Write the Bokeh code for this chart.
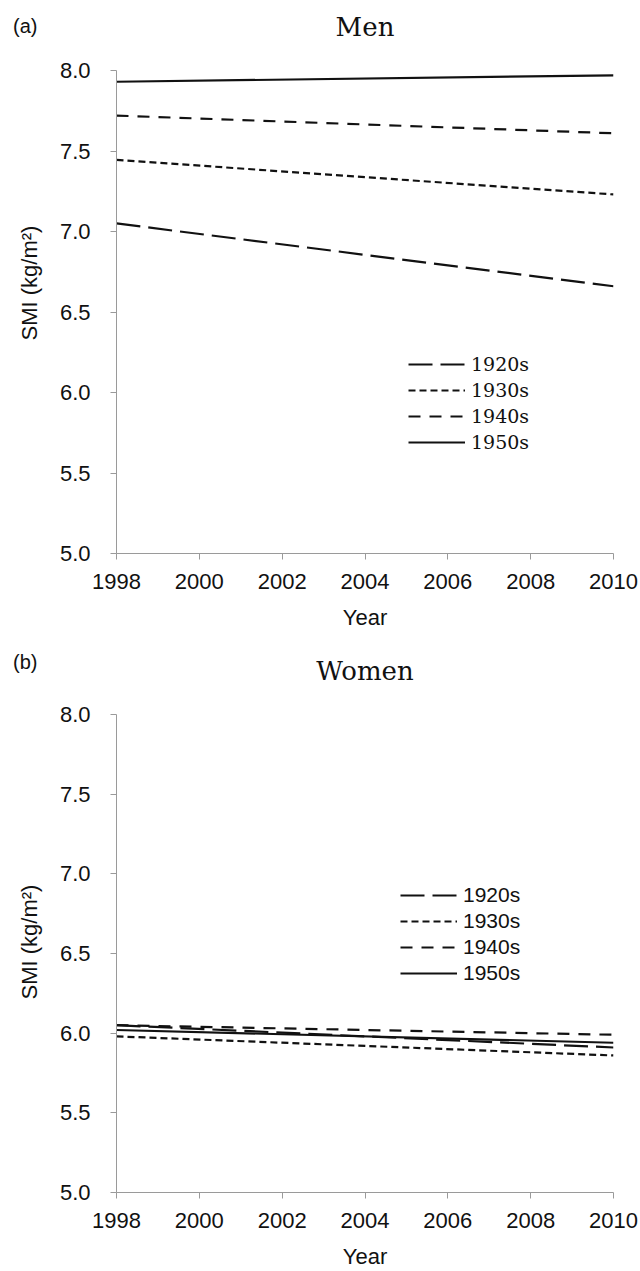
from bokeh.plotting import figure
from bokeh.layouts import column
from bokeh.models import Range1d, Legend, LegendItem, Title, FixedTicker, NumeralTickFormatter
from bokeh.core.properties import value
from bokeh.embed import file_html
from bokeh.resources import INLINE

years = [1998, 2010]
cohorts = ["1920s", "1930s", "1940s", "1950s"]
men_1920s = [7.05, 6.66]
men_1930s = [7.445, 7.23]
men_1940s = [7.72, 7.61]
men_1950s = [7.93, 7.97]
women_1920s = [6.05, 5.91]
women_1930s = [5.98, 5.86]
women_1940s = [6.05, 5.99]
women_1950s = [6.02, 5.94]
x_ticks = [1998, 2000, 2002, 2004, 2006, 2008, 2010]
y_ticks = [5.0, 5.5, 6.0, 6.5, 7.0, 7.5, 8.0]
panel_titles = ["Men", "Women"]
panel_tags = ["(a)", "(b)"]

dashes = ["24 8", "7 4", "12 9", "solid"]
AX = "#9a9a9a"
INK = "#111111"
SANS = "Liberation Sans"
SERIF = "DejaVu Serif"


def header(tag, title, height, tag_y, title_y):
    h = figure(width=640, height=height, output_backend="svg", toolbar_location=None,
               x_range=Range1d(1998, 2010), y_range=Range1d(0, height),
               x_axis_location=None, y_axis_location="left",
               min_border_left=116, min_border_right=27,
               min_border_top=0, min_border_bottom=0)
    h.outline_line_color = None
    h.xgrid.visible = False
    h.ygrid.visible = False
    ax = h.yaxis[0]
    ax.ticker = FixedTicker(ticks=[tag_y])
    ax.major_label_overrides = {tag_y: tag}
    ax.axis_line_color = None
    ax.major_tick_line_color = None
    ax.minor_tick_line_color = None
    ax.major_tick_out = 0
    ax.major_tick_in = 0
    ax.major_label_standoff = 79
    ax.major_label_text_font = SANS
    ax.major_label_text_font_size = "20px"
    ax.major_label_text_color = INK
    h.text(x=[2004], y=[title_y], text=[title], text_font=value(SERIF),
           text_font_size="26px", text_align="center", text_baseline="middle",
           text_color=INK)
    return h


def panel(series, height, top, bottom, legend_font, legend_size, legend_loc, ylab_offset):
    p = figure(width=640, height=height, output_backend="svg", toolbar_location=None,
               x_range=Range1d(1998, 2010), y_range=Range1d(5.0, 8.0),
               min_border_left=116, min_border_right=27, min_border_top=top,
               min_border_bottom=bottom)
    p.outline_line_color = None
    p.xgrid.visible = False
    p.ygrid.visible = False
    for ax in (p.xaxis[0], p.yaxis[0]):
        ax.axis_line_color = AX
        ax.axis_line_width = 1
        ax.major_tick_line_color = AX
        ax.major_tick_out = 6
        ax.major_tick_in = 0
        ax.minor_tick_out = 0
        ax.minor_tick_in = 0
        ax.major_label_text_font = SANS
        ax.major_label_text_font_size = "22px"
        ax.major_label_text_color = INK
        ax.axis_label_text_font = SANS
        ax.axis_label_text_font_size = "22px"
        ax.axis_label_text_font_style = "normal"
        ax.axis_label_text_color = INK
    p.xaxis.ticker = FixedTicker(ticks=x_ticks)
    p.yaxis.ticker = FixedTicker(ticks=y_ticks)
    p.yaxis.formatter = NumeralTickFormatter(format="0.0")
    p.xaxis.axis_label = "Year"
    p.xaxis.major_label_standoff = 14
    p.yaxis.major_label_standoff = 20
    p.xaxis.axis_label_standoff = 13

    ylab = Title(text="SMI (kg/m²)", align="left", offset=ylab_offset, standoff=28,
                 vertical_align="middle",
                 text_font=SANS, text_font_size="22px", text_font_style="normal",
                 text_color=INK)
    p.add_layout(ylab, "left")

    items = []
    for name, vals, dash in zip(cohorts, series, dashes):
        r = p.line(years, vals, line_color=INK, line_width=2.2, line_dash=dash)
        items.append(LegendItem(label=name, renderers=[r]))
    leg = Legend(items=items, location=legend_loc, glyph_width=57, glyph_height=26,
                 spacing=0, padding=0, margin=0, label_standoff=6,
                 label_text_font=legend_font, label_text_font_size=legend_size,
                 label_text_color=INK, background_fill_alpha=0,
                 border_line_color=None, label_height=26)
    p.add_layout(leg)
    return p


head_a = header(panel_tags[0], panel_titles[0], 55, 30, 29)
top = panel([men_1920s, men_1930s, men_1940s, men_1950s], 585, 15, 87,
            SERIF, "19px", (292, 98), 213)
head_b = header(panel_tags[1], panel_titles[1], 60, 39, 30)
bot = panel([women_1920s, women_1930s, women_1940s, women_1950s], 571, 14, 73,
            SANS, "21px", (284, 206), 193)

layout = column(head_a, top, head_b, bot, spacing=0)
open("out.html", "w").write(file_html(layout, INLINE))
